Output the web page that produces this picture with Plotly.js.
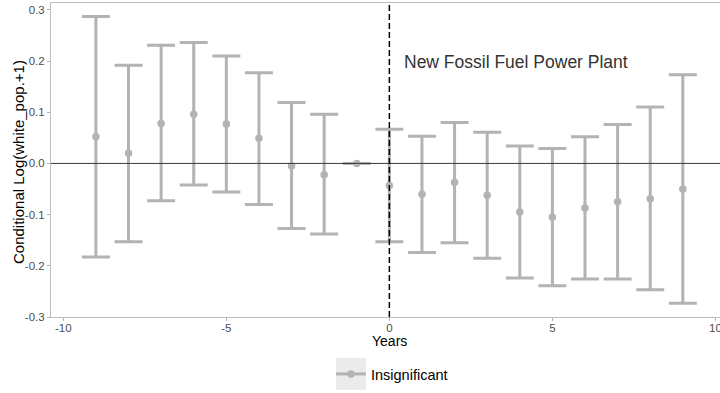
<!DOCTYPE html>
<html>
<head>
<meta charset="utf-8">
<script src="https://cdn.plot.ly/plotly-3.0.1.min.js"></script>
<style>
  html, body { margin: 0; padding: 0; background: #ffffff; }
  #chart { width: 720px; height: 393px; }
</style>
</head>
<body>
<div id="chart"></div>
<script>
// Event-study coefficients: years relative to a new fossil fuel power plant
var years = [-9, -8, -7, -6, -5, -4, -3, -2, -1, 0, 1, 2, 3, 4, 5, 6, 7, 8, 9];
var estimate = [0.052, 0.020, 0.078, 0.096, 0.077, 0.049, -0.005, -0.022, 0.000,
                -0.043, -0.060, -0.037, -0.062, -0.095, -0.105, -0.087, -0.075, -0.069, -0.050];
var lower = [-0.183, -0.153, -0.073, -0.042, -0.056, -0.080, -0.127, -0.138, 0.000,
             -0.153, -0.174, -0.155, -0.185, -0.224, -0.239, -0.226, -0.226, -0.247, -0.273];
var upper = [0.287, 0.192, 0.231, 0.236, 0.210, 0.177, 0.119, 0.096, 0.000,
             0.067, 0.053, 0.080, 0.061, 0.034, 0.029, 0.052, 0.076, 0.110, 0.173];

var yTickVals = [-0.3, -0.2, -0.1, 0.0, 0.1, 0.2, 0.3];
var yTickText = ["-0.3", "-0.2", "-0.1", "0.0", "0.1", "0.2", "0.3"];
var xTickVals = [-10, -5, 0, 5, 10];
var xTickText = ["-10", "-5", "0", "5", "10"];

var seriesName = "Insignificant";
var eventLabel = "New Fossil Fuel Power Plant";
var xTitle = "Years";
var yTitle = "Conditional Log(white_pop.+1)";

var grey = "#b3b3b3";
var font = "Liberation Sans, Arial, Helvetica, sans-serif";

var errPlus = upper.map(function (u, i) { return u - estimate[i]; });
var errMinus = lower.map(function (l, i) { return estimate[i] - l; });

var coefTrace = {
  type: "scatter",
  mode: "markers",
  x: years,
  y: estimate,
  name: seriesName,
  showlegend: false,
  marker: { color: grey, size: 7.5 },
  error_y: {
    type: "data",
    symmetric: false,
    array: errPlus,
    arrayminus: errMinus,
    color: grey,
    thickness: 3,
    width: 14
  },
  hoverinfo: "x+y"
};

// legend entry (line with point, as in the key)
var keyTrace = {
  type: "scatter",
  mode: "lines+markers",
  x: [null],
  y: [null],
  name: seriesName,
  showlegend: true,
  line: { color: grey, width: 3 },
  marker: { color: grey, size: 7.5 }
};

var layout = {
  width: 720,
  height: 393,
  margin: { l: 51, r: 0, t: 3, b: 76 },
  paper_bgcolor: "#ffffff",
  plot_bgcolor: "#ffffff",
  font: { family: font, color: "#000000" },
  showlegend: true,
  xaxis: {
    range: [-10.377, 10.14],
    tickvals: xTickVals,
    ticktext: xTickText,
    tickfont: { size: 11.5, color: "#4d4d4d", family: font },
    ticks: "outside",
    ticklen: 3,
    tickcolor: "#b3b3b3",
    ticklabeloverflow: "allow",
    ticklabelstandoff: -3,
    showgrid: false,
    zeroline: false,
    showline: true,
    mirror: true,
    linecolor: "#bfbfbf",
    linewidth: 1,
    fixedrange: true
  },
  yaxis: {
    range: [-0.3, 0.3134],
    tickvals: yTickVals,
    ticktext: yTickText,
    tickfont: { size: 11.5, color: "#4d4d4d", family: font },
    ticks: "outside",
    ticklen: 3,
    tickcolor: "#b3b3b3",
    showgrid: false,
    zeroline: false,
    showline: true,
    mirror: false,
    linecolor: "#bfbfbf",
    linewidth: 1,
    fixedrange: true
  },
  legend: {
    orientation: "h",
    x: 0.4185,
    xanchor: "left",
    y: -0.1815,
    yanchor: "middle",
    font: { size: 14.5, color: "#000000", family: font },
    bgcolor: "rgba(0,0,0,0)"
  },
  shapes: [
    // grey key background behind the legend symbol
    {
      type: "rect", xref: "paper", yref: "paper", layer: "below",
      x0: (336 - 51) / 669, x1: (366 - 51) / 669,
      y0: (317 - 358) / 314, y1: (317 - 390) / 314,
      fillcolor: "#ebebeb", line: { width: 0 }
    },
    // reference line at zero
    {
      type: "line", xref: "paper", yref: "y",
      x0: 0, x1: 1, y0: 0, y1: 0,
      line: { color: "#3a3a3a", width: 1 }
    },
    // event year marker
    {
      type: "line", xref: "x", yref: "paper",
      x0: 0, x1: 0, y0: 0, y1: 1,
      line: { color: "#000000", width: 1.5, dash: "6px,3px" }
    }
  ],
  annotations: [
    {
      text: eventLabel,
      xref: "x", yref: "y",
      x: 0.4, y: 0.198,
      xanchor: "left", yanchor: "middle",
      showarrow: false,
      font: { size: 17.5, color: "#333333", family: font }
    },
    // x axis title, centred under the full panel
    {
      text: xTitle,
      xref: "x", yref: "paper",
      x: 0, y: (317 - 341) / 314,
      xanchor: "center", yanchor: "middle",
      showarrow: false,
      font: { size: 14, color: "#000000", family: font }
    },
    // y axis title
    {
      text: yTitle,
      xref: "paper", yref: "paper",
      x: (18.5 - 51) / 669, y: (317 - 162.5) / 314,
      xanchor: "center", yanchor: "middle",
      textangle: -90,
      showarrow: false,
      font: { size: 15, color: "#000000", family: font }
    }
  ]
};

Plotly.newPlot("chart", [coefTrace, keyTrace], layout, { displayModeBar: false, staticPlot: true });
</script>
</body>
</html>
